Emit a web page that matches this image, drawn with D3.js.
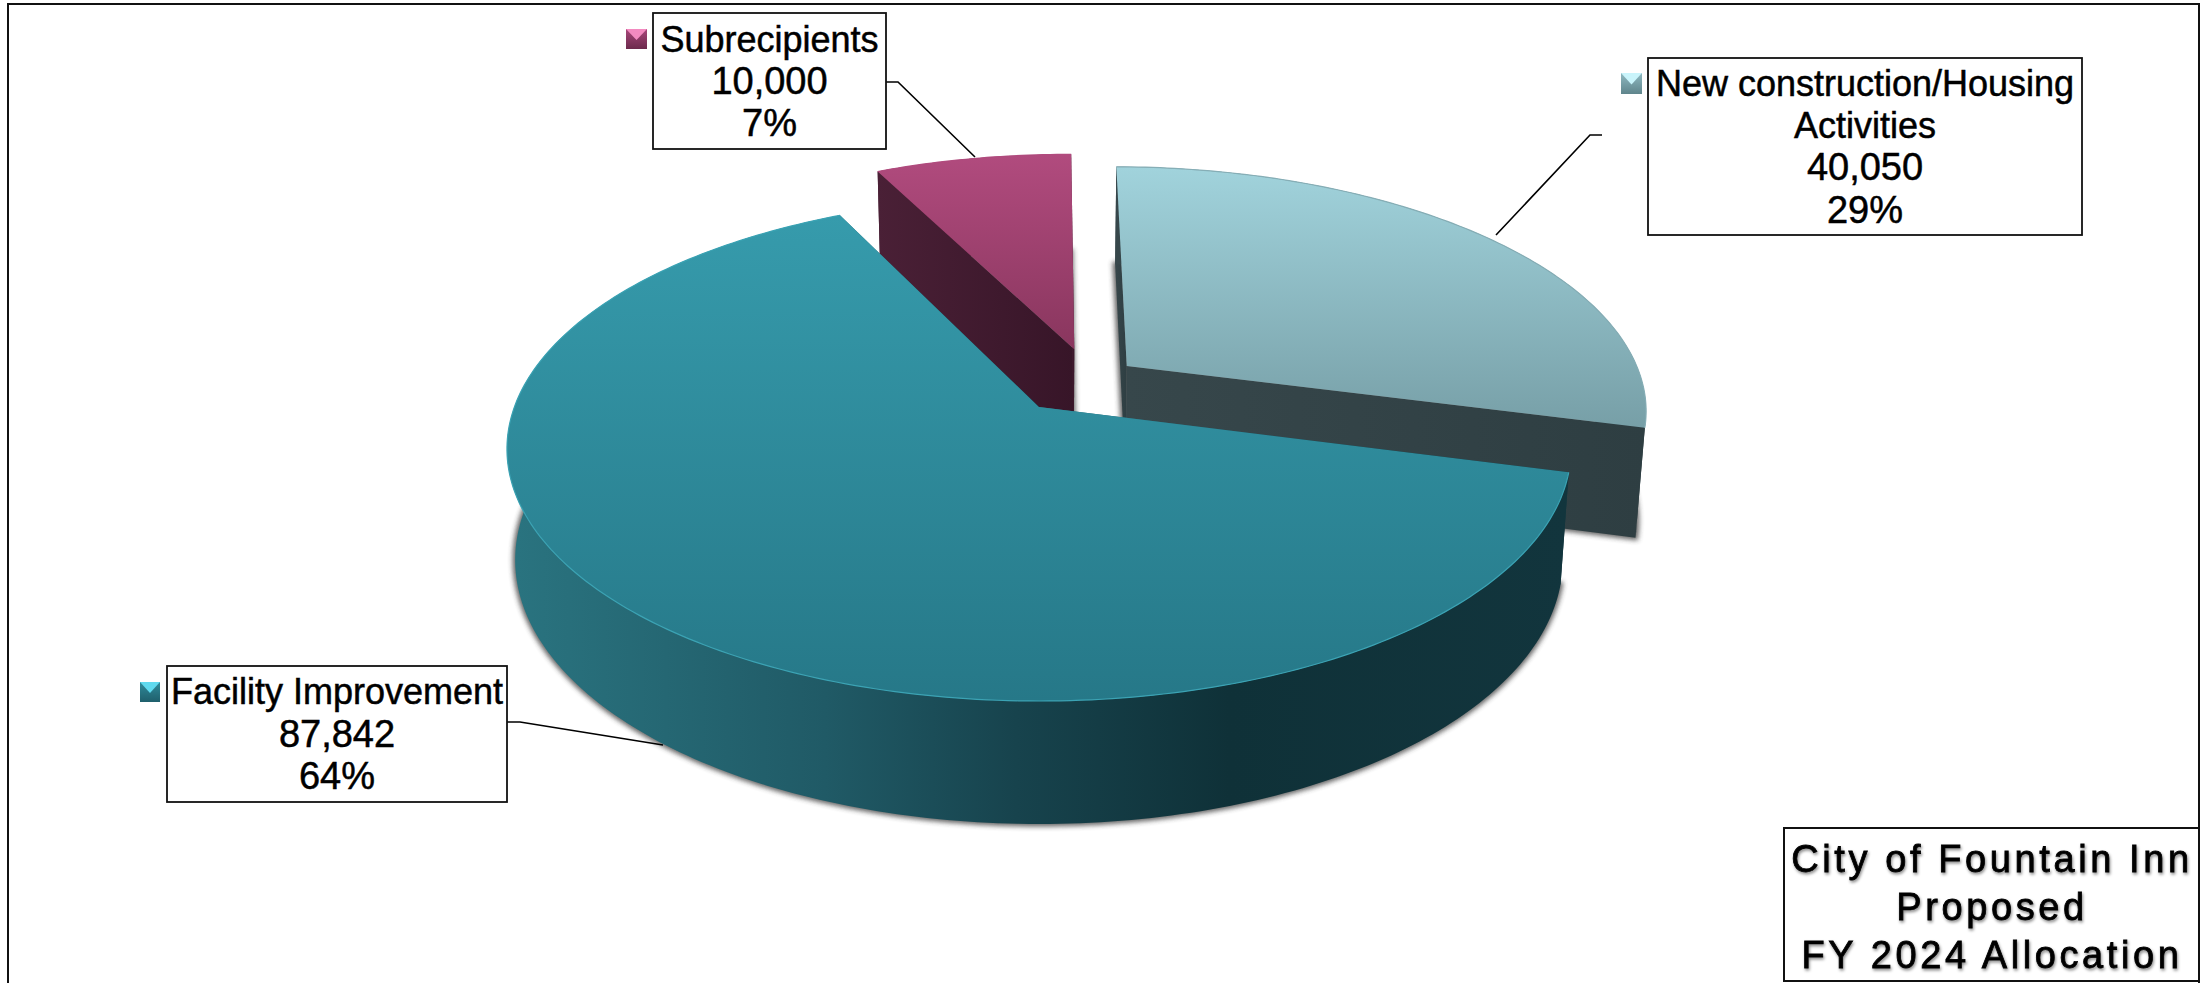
<!DOCTYPE html>
<html>
<head>
<meta charset="utf-8">
<title>City of Fountain Inn FY 2024 Allocation</title>
<script src="https://cdn.jsdelivr.net/npm/d3@7/dist/d3.min.js"></script>
<style>
  html, body { margin: 0; padding: 0; background: #fff; }
  svg { display: block; }
  text { font-family: "Liberation Sans", Arial, sans-serif; fill: #000; stroke: #000; }
</style>
</head>
<body>
<svg id="chart" width="2208" height="983"></svg>
<script>
// Allocation by activity
const categories = ["New construction/Housing Activities", "Facility Improvement", "Subrecipients"];
const values = [40050, 87842, 10000];
const titleLines = ["City of Fountain Inn", "Proposed", "FY 2024 Allocation"];
const categoryLines = [["New construction/Housing", "Activities"], ["Facility Improvement"], ["Subrecipients"]];

// Paint order runs back to front so the big slice overlaps the exploded ones
const paintOrder = [2, 0, 1];

// How far each slice is pulled out of the pie, in units of the radius (x right, y away)
const explode = [[0.172, 0.172], [0, 0], [0.07, 0.245]];

const sliceStyle = [
  { top: ["#a1d3dc", "#779fa7"], wall: [[0, "#37474b"], [1, "#2e3e42"]], edge: "#86aeb6", key: ["#8fb9c1", "#5f858c", "#c9f4fb"] },
  { top: ["#369bac", "#267888"], wall: [[0, "#2a7480"], [0.3, "#205a66"], [0.48, "#17434d"], [0.68, "#0f3138"], [1, "#12353d"]], edge: "#3ba3b4", key: ["#2f8b9b", "#1f5f6c", "#5fd9ee"] },
  { top: ["#b14b7e", "#89365e"], wall: [[0, "#4a2036"], [1, "#371528"]], edge: "#b14b7e", key: ["#a8467a", "#6c2a4c", "#f38ac0"] }
];

// Callout boxes, their leader lines and legend keys
const callouts = [
  { box: [1648, 58, 434, 177], key: [1621, 73, 21, 21], baselines: [96, 138, 180, 223], leader: [[1602, 135], [1590, 135], [1496, 235]] },
  { box: [167, 666, 340, 136], key: [140, 682, 20, 20], baselines: [704, 747, 789], leader: [[507, 722], [520, 722], [663, 745]] },
  { box: [653, 13, 233, 136], key: [626, 29, 21, 20], baselines: [52, 94, 136], leader: [[886, 82], [898, 82], [975, 157]] }
];

const svg = d3.select("#chart");
const defs = svg.append("defs");
const total = d3.sum(values);
const formatValue = d3.format(",");

// The pie is a disc seen in perspective: each level has its own plane-to-screen mapping
const topPlane = { x0: 1039, y0: 407, a: 245, b: 524.6, k: 0.1667 };
const bottomPlane = { x0: 1039, y0: 516, a: 256.7, b: 516.5, k: 0.1667 };
const project = (plane, x, y) => {
  const d = 1 + plane.k * y;
  return [plane.x0 + plane.b * x / d, plane.y0 - plane.a * y / d];
};

const pieLayout = d3.pie().sort(null).value(d => d).startAngle(0.0042).endAngle(0.0042 + 2 * Math.PI);
const arcs = pieLayout(values);
const line = d3.line();

const rimAngles = (a) => {
  const n = Math.max(8, Math.ceil((a.endAngle - a.startAngle) * 60));
  return d3.range(n + 1).map(i => a.startAngle + (a.endAngle - a.startAngle) * i / n);
};
const rimPoints = (plane, a, off) => rimAngles(a).map(t => project(plane, off[0] + Math.sin(t), off[1] + Math.cos(t)));

// Soft shadow that sits under the walls
const blur = defs.append("filter").attr("id", "wallShadow")
  .attr("x", "-10%").attr("y", "-10%").attr("width", "120%").attr("height", "120%");
blur.append("feGaussianBlur").attr("stdDeviation", 2.5);
const textBlur = defs.append("filter").attr("id", "titleShadow")
  .attr("x", "-5%").attr("y", "-10%").attr("width", "110%").attr("height", "130%");
textBlur.append("feDropShadow").attr("dx", 1).attr("dy", 2).attr("stdDeviation", 1.5)
  .attr("flood-color", "#000").attr("flood-opacity", 0.45);

sliceStyle.forEach((s, i) => {
  const top = defs.append("linearGradient").attr("id", `top${i}`).attr("x1", 0).attr("x2", 0).attr("y1", 0).attr("y2", 1);
  top.append("stop").attr("offset", 0).attr("stop-color", s.top[0]);
  top.append("stop").attr("offset", 1).attr("stop-color", s.top[1]);
  const wall = defs.append("linearGradient").attr("id", `wall${i}`).attr("x1", 0).attr("x2", 1).attr("y1", 0).attr("y2", 0);
  s.wall.forEach(w => wall.append("stop").attr("offset", w[0]).attr("stop-color", w[1]));
  const key = defs.append("linearGradient").attr("id", `key${i}`).attr("x1", 0).attr("x2", 0).attr("y1", 0).attr("y2", 1);
  key.append("stop").attr("offset", 0).attr("stop-color", s.key[0]);
  key.append("stop").attr("offset", 1).attr("stop-color", s.key[1]);
});

// Outer frame
svg.append("rect").attr("x", 8).attr("y", 4).attr("width", 2191).attr("height", 985)
  .attr("fill", "#fff").attr("stroke", "#111").attr("stroke-width", 2);

// Slices
const pie = svg.append("g");
paintOrder.forEach(i => {
  const a = arcs[i];
  const off = explode[i];
  const g = pie.append("g");
  const topRim = rimPoints(topPlane, a, off);
  const bottomRim = rimPoints(bottomPlane, a, off);
  const topApex = project(topPlane, off[0], off[1]);
  const bottomApex = project(bottomPlane, off[0], off[1]);

  g.append("path")
    .attr("d", line([bottomApex, ...bottomRim]) + "Z")
    .attr("fill", "#333").attr("stroke", "#333").attr("stroke-width", 5)
    .attr("opacity", 0.75).attr("filter", "url(#wallShadow)");

  // Cut faces along both radial edges
  [[topRim[0], bottomRim[0]], [topRim[topRim.length - 1], bottomRim[bottomRim.length - 1]]].forEach(([t, b]) => {
    g.append("path")
      .attr("d", line([topApex, t, b, bottomApex]) + "Z")
      .attr("fill", `url(#wall${i})`);
  });

  // Outer wall
  g.append("path")
    .attr("d", line([...topRim, ...bottomRim.slice().reverse()]) + "Z")
    .attr("fill", `url(#wall${i})`);

  // Top face with a thin lit rim
  g.append("path")
    .attr("d", line([topApex, ...topRim]) + "Z")
    .attr("fill", `url(#top${i})`);
  g.append("path")
    .attr("d", line(topRim))
    .attr("fill", "none").attr("stroke", sliceStyle[i].edge).attr("stroke-width", 1.2);
});

// Callouts
callouts.forEach((c, i) => {
  const g = svg.append("g");
  g.append("path").attr("d", line(c.leader)).attr("fill", "none").attr("stroke", "#000").attr("stroke-width", 1.6);
  g.append("rect")
    .attr("x", c.box[0]).attr("y", c.box[1]).attr("width", c.box[2]).attr("height", c.box[3])
    .attr("fill", "#fff").attr("stroke", "#111").attr("stroke-width", 1.8);

  const cx = c.box[0] + c.box[2] / 2;
  const names = categoryLines[i];
  const content = [...names, formatValue(values[i]), `${Math.round(values[i] / total * 100)}%`];
  g.selectAll("text").data(content).join("text")
    .attr("x", cx).attr("y", (d, j) => c.baselines[j])
    .attr("text-anchor", "middle")
    .attr("font-size", (d, j) => j < names.length ? 36 : 38)
    .attr("stroke-width", 0.5)
    .text(d => d);

  const [kx, ky, kw, kh] = c.key;
  g.append("rect").attr("x", kx).attr("y", ky).attr("width", kw).attr("height", kh).attr("fill", `url(#key${i})`);
  g.append("path")
    .attr("d", line([[kx, ky], [kx + kw, ky], [kx + kw / 2, ky + kh * 0.55]]) + "Z")
    .attr("fill", sliceStyle[i].key[2]);
});

// Title box
const title = svg.append("g");
title.append("rect").attr("x", 1784).attr("y", 828).attr("width", 415).attr("height", 153)
  .attr("fill", "#fff").attr("stroke", "#111").attr("stroke-width", 2);
title.selectAll("text").data(titleLines).join("text")
  .attr("x", 1992).attr("y", (d, i) => [872, 920, 968][i])
  .attr("text-anchor", "middle").attr("font-size", 38).attr("letter-spacing", 3.6)
  .attr("stroke-width", 0.8)
  .attr("filter", "url(#titleShadow)")
  .text(d => d);
</script>
</body>
</html>
